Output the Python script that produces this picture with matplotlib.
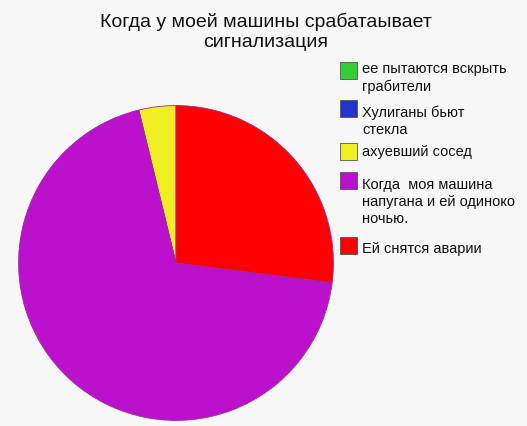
import matplotlib
matplotlib.use("Agg")
import matplotlib.pyplot as plt
from matplotlib.patches import Rectangle

labels = ["ее пытаются вскрыть\nграбители", "Хулиганы бьют\nстекла", "ахуевший сосед",
          "Когда  моя машина\nнапугана и ей одиноко\nночью.", "Ей снятся аварии"]
values = [0, 0, 3.8, 69.2, 27.0]
colors = ["#33cc33", "#2233cc", "#eeee22", "#bb11cc", "#ff0000"]
title = "Когда у моей машины срабатаывает\nсигнализация"

W, H = 527, 427
bg = "#f7f7f7"
fig = plt.figure(figsize=(W / 100, H / 100), dpi=100, facecolor=bg)
plt.rcParams['font.family'] = ['Liberation Sans', 'DejaVu Sans']

cx, cy, r = 176, 264, 159
ax = fig.add_axes([(cx - r) / W, (H - cy - r) / H, 2 * r / W, 2 * r / H])
ax.set_facecolor(bg)
nz = [(v, c) for v, c in zip(values, colors) if v > 0]
ax.pie([v for v, c in nz], colors=[c for v, c in nz], startangle=90, counterclock=True,
       radius=1, wedgeprops=dict(edgecolor="#9a2a9a", linewidth=0.6))
ax.set_xlim(-1.01, 1.01)
ax.set_ylim(-1.01, 1.01)
ax.set_aspect("equal")
ax.axis("off")

fig.text(266 / W, 1 - 32 / H, title, ha="center", va="center", fontsize=14,
         linespacing=1.2, color="#111111")

box_y = [63, 101, 144, 173, 238]
text_y = [70, 114, 153, 186, 250]
for lab, c, by, ty in zip(labels, colors, box_y, text_y):
    fig.patches.append(Rectangle((340 / W, 1 - (by + 17) / H), 17 / W, 17 / H,
                                 transform=fig.transFigure, facecolor=c,
                                 edgecolor="#555555", linewidth=0.6))
    fig.text(362 / W, 1 - (ty - 8) / H, lab, ha="left", va="top", fontsize=10.5,
             linespacing=1.27, color="#111111")

fig.savefig("out.png", dpi=100, facecolor=bg)
